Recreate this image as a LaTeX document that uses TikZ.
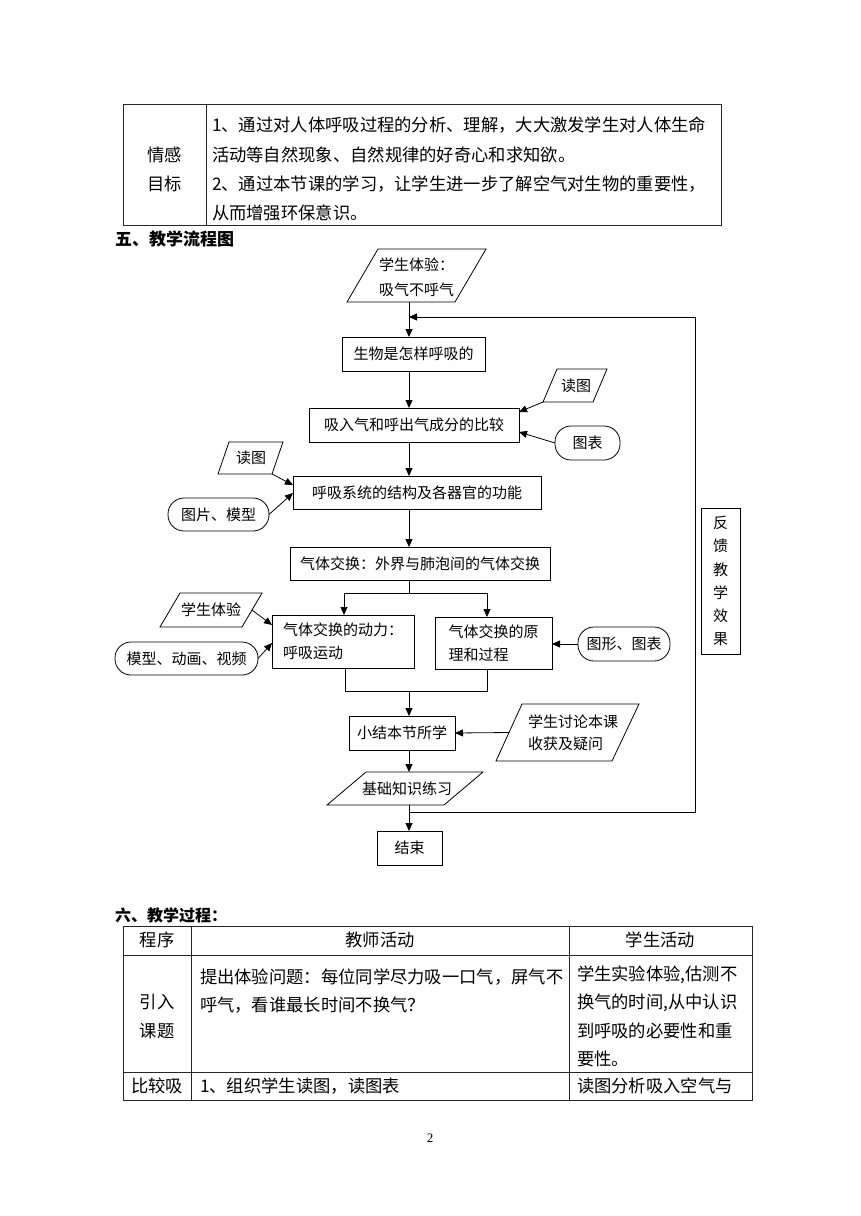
\documentclass[tikz,border=0pt]{standalone}
\usepackage{fontspec}
\setmainfont{Noto Sans CJK SC}
\newfontfamily\numfont{Liberation Serif}
\usetikzlibrary{arrows.meta,calc}
\begin{document}
\begin{tikzpicture}[x=1pt,y=-1pt,
  every node/.style={inner sep=0pt, outer sep=0pt},
  ln/.style={line width=0.8pt, draw=black},
  arr/.style={ln, -{Triangle[length=8pt,width=7pt]}},
  fc/.style={font=\fontsize{15}{23}\selectfont},
  tb/.style={font=\fontsize{17.3}{20}\selectfont},
  txt/.style={anchor=west, tb},
  ctxt/.style={tb},
  flowbox/.style={draw, line width=0.8pt, rectangle, fc, align=center},
  roundbox/.style={draw, line width=0.8pt, rectangle, rounded corners=16pt, fc},
  tline/.style={line width=0.8pt, draw=black!85}
]
\useasboundingbox (0,0) rectangle (860,1216);
\fill[white] (0,0) rectangle (860,1216);

% ---------- top table ----------
\draw[tline] (123,104) rectangle (721,225);
\draw[tline] (206,104) -- (206,225);
\node[ctxt] (qg) at (164.5,155) {情感};
\node[ctxt] (mb) at (164.5,184) {目标};
\node[txt] (t1a) at (212,125) {1、通过对人体呼吸过程的分析、理解，大大激发学生对人体生命};
\node[txt] (t1b) at (212,155) {活动等自然现象、自然规律的好奇心和求知欲。};
\node[txt] (t1c) at (212,184) {2、通过本节课的学习，让学生进一步了解空气对生物的重要性，};
\node[txt] (t1d) at (212,213) {从而增强环保意识。};

% ---------- heading 5 ----------
\node[anchor=west, font=\fontsize{17}{20}\selectfont\bfseries] (h5) at (115,239) {五、教学流程图};

% ---------- flowchart ----------
\coordinate (mx) at (409,0);

% P0 parallelogram
\coordinate (p0tl) at (378,249); \coordinate (p0tr) at (486,249);
\coordinate (p0br) at (455,302); \coordinate (p0bl) at (347,302);
\draw[ln] (p0tl) -- (p0tr) -- (p0br) -- (p0bl) -- cycle;
\node[align=left, font=\fontsize{15}{25}\selectfont] (p0) at (416.5,277.5) {学生体验：\\吸气不呼气};

\node[flowbox, minimum width=143pt, minimum height=34pt] (b1) at (413.5,354) {生物是怎样呼吸的};
\node[flowbox, minimum width=210pt, minimum height=34pt] (b2) at (414,425) {吸入气和呼出气成分的比较};
\node[flowbox, minimum width=248pt, minimum height=33pt] (b3) at (417,492.5) {呼吸系统的结构及各器官的功能};
\node[flowbox, minimum width=260pt, minimum height=33pt] (b4) at (420,563.5) {气体交换：外界与肺泡间的气体交换};
\node[flowbox, align=left, minimum width=142pt, minimum height=53pt] (b5) at (343,641.5) {气体交换的动力：\\呼吸运动};
\node[flowbox, align=left, minimum width=117pt, minimum height=52pt] (b6) at (493.5,643) {气体交换的原\\理和过程};
\node[flowbox, minimum width=106pt, minimum height=34pt] (b7) at (402,733) {小结本节所学};
\node[flowbox, minimum width=65pt, minimum height=34pt] (end) at (409.5,848) {结束};
\node[flowbox, minimum width=39pt, minimum height=146pt, font=\fontsize{15}{23.2}\selectfont] (fb) at (720.5,581) {反\\馈\\教\\学\\效\\果};

% R1 parallelogram (读图, right)
\coordinate (r1tl) at (557,369); \coordinate (r1tr) at (607,369);
\coordinate (r1br) at (593,402); \coordinate (r1bl) at (543,402);
\draw[ln] (r1tl) -- (r1tr) -- (r1br) -- (r1bl) -- cycle;
\node[fc] (r1) at (576,385.5) {读图};

% L1 parallelogram (读图, left)
\coordinate (l1tl) at (229,442); \coordinate (l1tr) at (283,442);
\coordinate (l1br) at (272,474); \coordinate (l1bl) at (218,474);
\draw[ln] (l1tl) -- (l1tr) -- (l1br) -- (l1bl) -- cycle;
\node[fc] (l1) at (251,458) {读图};

% L3 parallelogram (学生体验)
\coordinate (l3tl) at (180,593); \coordinate (l3tr) at (262,593);
\coordinate (l3br) at (242,627); \coordinate (l3bl) at (160,627);
\draw[ln] (l3tl) -- (l3tr) -- (l3br) -- (l3bl) -- cycle;
\node[fc] (l3) at (211,610) {学生体验};

% P2 parallelogram
\coordinate (p2tl) at (522,704); \coordinate (p2tr) at (639,704);
\coordinate (p2br) at (612,761); \coordinate (p2bl) at (496,761);
\draw[ln] (p2tl) -- (p2tr) -- (p2br) -- (p2bl) -- cycle;
\node[align=left, font=\fontsize{15}{22}\selectfont] (p2) at (573,733) {学生讨论本课\\收获及疑问};

% P3 parallelogram
\coordinate (p3tl) at (366,772); \coordinate (p3tr) at (483,772);
\coordinate (p3br) at (444,805); \coordinate (p3bl) at (327,805);
\draw[ln] (p3tl) -- (p3tr) -- (p3br) -- (p3bl) -- cycle;
\node[fc] (p3) at (407,789) {基础知识练习};

% rounded boxes
\node[roundbox, minimum width=65pt, minimum height=34pt] (t1) at (587.5,443) {图表};
\node[roundbox, minimum width=101pt, minimum height=33pt] (l2) at (218.5,514.5) {图片、模型};
\node[roundbox, minimum width=143pt, minimum height=33pt] (l4) at (186.5,658.5) {模型、动画、视频};
\node[roundbox, minimum width=92pt, minimum height=34pt] (t2) at (624,644) {图形、图表};

% main connectors
\draw[arr] (p0bl -| mx) -- (b1.north -| mx);
\draw[arr] (b1.south -| mx) -- (b2.north -| mx);
\draw[arr] (b2.south -| mx) -- (b3.north -| mx);
\draw[arr] (b3.south -| mx) -- (b4.north -| mx);
\coordinate (sm) at (409,593); \coordinate (sl) at (344,593); \coordinate (sr) at (487,593);
\draw[ln] (b4.south -| mx) -- (sm);
\draw[arr] (sm) -- (sl) -- (b5.north -| sl);
\draw[arr] (sm) -- (sr) -- (b6.north -| sr);
\coordinate (ml) at (345,691); \coordinate (mr) at (487,691); \coordinate (mm) at (409,691);
\draw[ln] (b5.south -| ml) -- (ml) -- (mr) -- (b6.south -| mr);
\draw[arr] (mm) -- (b7.north -| mx);
\draw[arr] (b7.south -| mx) -- (p3tl -| mx);
\draw[arr] (p3bl -| mx) -- (end.north -| mx);
% feedback loop
\coordinate (fj) at (409,812); \coordinate (fr) at (695,812);
\coordinate (ft) at (695,317); \coordinate (fl) at (409,317);
\draw[arr] (fj) -- (fr) -- (ft) -- (fl);

% side connectors
\draw[arr] (r1bl) -- ($(b2.north east)+(0,4)$);
\draw[arr] (t1.west) -- ($(b2.north east)+(0,24)$);
\draw[arr] (l1br) -- ($(b3.north west)+(0,9)$);
\draw[arr] (l2.east) -- ($(b3.north west)+(0,17)$);
\draw[arr] ($(l3tr)!0.5!(l3br)$) -- ($(b5.north west)+(0,10)$);
\draw[arr] (l4.east) -- ($(b5.north west)+(0,28)$);
\draw[arr] (t2.west) -- (t2.west -| b6.east);
\draw[arr] ($(p2tl)!0.5!(p2bl)$) -- (b7.east);

% ---------- heading 6 ----------
\node[anchor=west, font=\fontsize{16}{20}\selectfont\bfseries] (h6) at (115,915) {六、教学过程：};

% ---------- bottom table ----------
\draw[tline] (123,926) rectangle (752,1100);
\draw[tline] (123,955) -- (752,955);
\draw[tline] (123,1072) -- (752,1072);
\draw[tline] (191,926) -- (191,1100);
\draw[tline] (569,926) -- (569,1100);
\node[ctxt] (c11) at (157,940) {程序};
\node[ctxt] (c12) at (380,940) {教师活动};
\node[ctxt] (c13) at (660.5,940) {学生活动};
\node[ctxt] (c21a) at (157,1002) {引入};
\node[ctxt] (c21b) at (157,1031) {课题};
\node[txt] (c22a) at (200,977) {提出体验问题：每位同学尽力吸一口气，屏气不};
\node[txt] (c22b) at (200,1005) {呼气，看谁最长时间不换气？};
\node[txt] (c23a) at (577,975) {学生实验体验,估测不};
\node[txt] (c23b) at (577,1003) {换气的时间,从中认识};
\node[txt] (c23c) at (577,1031) {到呼吸的必要性和重};
\node[txt] (c23d) at (577,1059) {要性。};
\node[ctxt] (c31) at (157,1086) {比较吸};
\node[txt] (c32) at (200,1086) {1、组织学生读图，读图表};
\node[txt] (c33) at (577,1086) {读图分析吸入空气与};

\node[font=\numfont\fontsize{13}{15}\selectfont] (pg) at (430,1138) {2};
\end{tikzpicture}
\end{document}
